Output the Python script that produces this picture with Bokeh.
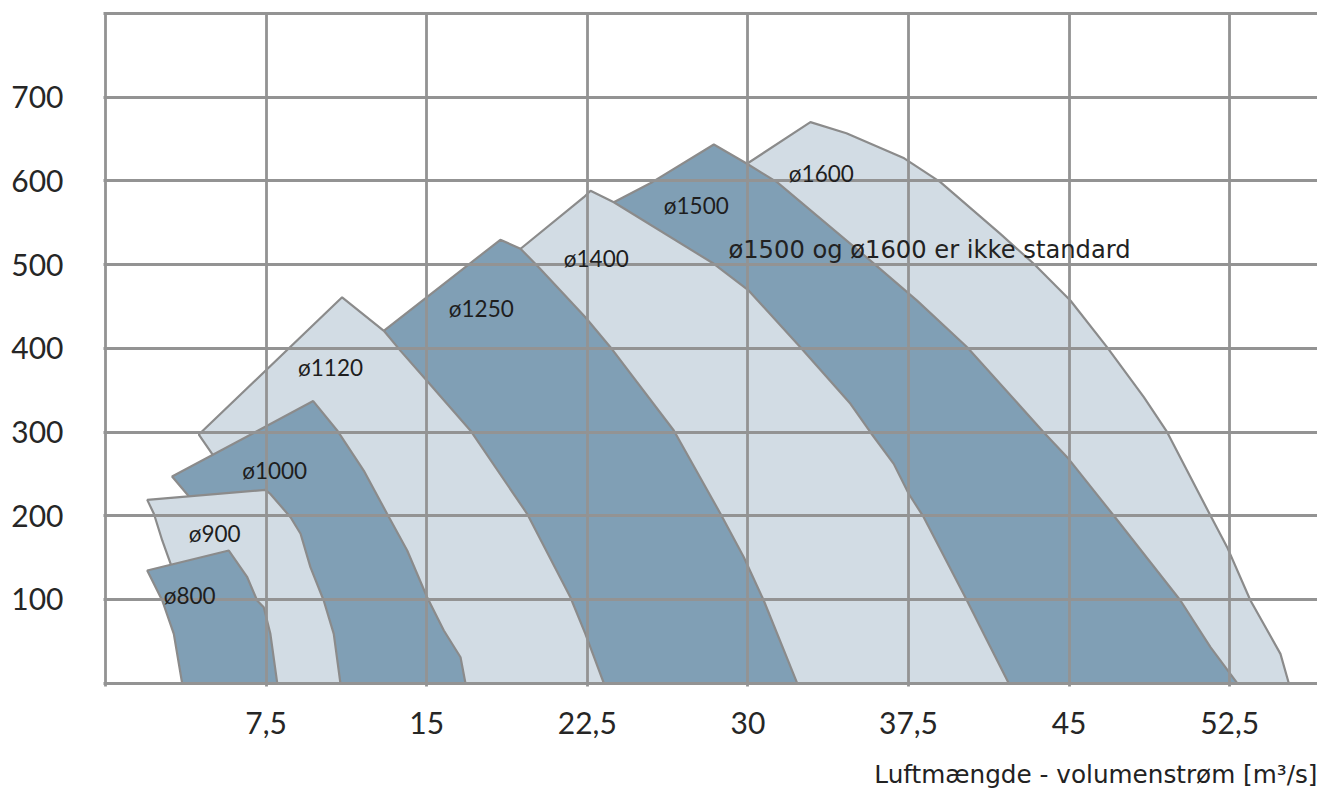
from bokeh.plotting import figure
from bokeh.models import Range1d, FixedTicker, Label, ColumnDataSource, Title
from bokeh.embed import file_html
from bokeh.resources import INLINE
from bokeh.core.properties import value

# ---- data (x: m3/s, y: pressure) ----
fan_names = ["ø800", "ø900", "ø1000", "ø1120", "ø1250", "ø1400", "ø1500", "ø1600"]

d800_x = [1.95, 5.76, 6.62, 7.08, 7.39, 7.70, 8.02, 3.58, 3.19, 2.65]
d800_y = [134.6, 158.5, 126.6, 98.8, 90.8, 59, 0, 0, 59, 98.8]

d900_x = [1.95, 7.47, 7.70, 8.64, 9.11, 9.57, 10.19, 10.66, 10.97, 7.5, 3.08, 2.65, 2.26]
d900_y = [219, 231, 226, 198.3, 178.5, 138.6, 98.8, 59, 0, 0, 140, 170.5, 202.4]

d1000_x = [3.11, 9.70, 10.82, 12.06, 13.15, 14.09, 15.02, 15.80, 16.58, 16.81, 10.4, 3.97]
d1000_y = [247, 337, 301.9, 254, 202.4, 158.5, 102.7, 63, 31, 0, 0, 221]

d1120_x = [4.36, 11.05, 13.0, 13.78, 15.02, 17.04, 19.69, 21.71, 22.41, 23.27, 16.3, 5.06]
d1120_y = [297, 461, 421, 397, 361, 301.9, 202.4, 102.7, 59, 0, 0, 271]

d1250_x = [12.8, 18.44, 19.38, 20.23, 22.41, 23.58, 26.54, 28.72, 29.81, 30.74, 32.3, 22.8]
d1250_y = [417, 529.7, 519, 497, 437.2, 401.4, 301.9, 202.4, 150.5, 98.8, 0, 0]

d1400_x = [19.1, 22.34, 22.65, 23.74, 28.41, 30.0, 32.45, 34.79, 35.72, 36.81, 37.51, 38.21, 40.23, 41.01, 42.18, 31.8]
d1400_y = [513, 580.6, 588.3, 574.6, 501, 470, 401.4, 333.8, 299.8, 262, 226.3, 198.3, 98.8, 59, 0, 0]

d1500_x = [23.4, 25.53, 28.41, 29.96, 31.36, 35.9, 37.9, 40.24, 43.81, 44.91, 47.08, 50.2, 51.6, 52.85, 41.7]
d1500_y = [570, 598.5, 643.5, 620.5, 598.5, 501, 457, 401.4, 299.8, 270, 200.3, 98.8, 43, 0, 0]

d1600_x = [29.6, 32.92, 34.6, 37.3, 38.99, 41.79, 43.35, 45.06, 46.77, 48.49, 49.58, 51.6, 52.38, 53.47, 54.87, 55.26, 52.3]
d1600_y = [614.5, 670.2, 657, 627, 598.5, 536.8, 501, 457.2, 401.4, 341.7, 299.8, 200.3, 162.5, 98.8, 35, 0, 0]

fan_fill = ["#809fb5", "#d2dce4", "#809fb5", "#d2dce4", "#809fb5", "#d2dce4", "#809fb5", "#d2dce4"]

label_x = [3.93, 5.10, 7.90, 10.51, 17.55, 22.92, 27.59, 33.43]
label_y = [104.8, 178.5, 254.1, 377.5, 447.3, 507.0, 570.7, 608.5]

x_ticks = [7.5, 15, 22.5, 30, 37.5, 45, 52.5]
x_tick_labels = ["7,5", "15", "22,5", "30", "37,5", "45", "52,5"]
x_grid = [0, 7.5, 15, 22.5, 30, 37.5, 45, 52.5]
y_ticks = [100, 200, 300, 400, 500, 600, 700]
y_grid = [0, 100, 200, 300, 400, 500, 600, 700, 800]

note_text = "ø1500 og ø1600 er ikke standard"
x_title = "Luftmængde - volumenstrøm [m³/s]"

# ---- figure ----
p = figure(width=1317, height=811,
           x_range=Range1d(-0.093, 56.6), y_range=Range1d(-3.94, 801.2),
           output_backend="svg", toolbar_location=None,
           min_border_left=103, min_border_right=0,
           min_border_top=12, min_border_bottom=125)
p.outline_line_color = None
p.background_fill_color = "white"
p.border_fill_color = "white"

# polygons drawn largest first so smaller fans lie on top
xs_all = [d800_x, d900_x, d1000_x, d1120_x, d1250_x, d1400_x, d1500_x, d1600_x]
ys_all = [d800_y, d900_y, d1000_y, d1120_y, d1250_y, d1400_y, d1500_y, d1600_y]
src = ColumnDataSource(dict(xs=xs_all[::-1], ys=ys_all[::-1], fill=fan_fill[::-1]))
p.patches(xs="xs", ys="ys", fill_color="fill", source=src,
          line_color="#8b8b8b", line_width=2.2)

# grid on top of the fills
p.xgrid.ticker = FixedTicker(ticks=x_grid)
p.ygrid.ticker = FixedTicker(ticks=y_grid)
p.grid.grid_line_color = "#939393"
p.grid.grid_line_width = 2.8
p.grid.level = "guide"

# axes
p.xaxis.ticker = FixedTicker(ticks=x_ticks)
p.xaxis.major_label_overrides = dict(zip(x_ticks, x_tick_labels))
p.yaxis.ticker = FixedTicker(ticks=y_ticks)
p.axis.axis_line_color = None
p.axis.major_tick_line_color = None
p.axis.minor_tick_line_color = None
p.axis.major_label_text_font = "Lato"
p.axis.major_label_text_font_size = "30px"
p.axis.major_label_text_color = "#262626"
p.xaxis.major_label_standoff = 19
p.yaxis.major_label_standoff = 34

# fan labels
p.text(x=label_x, y=label_y, text=fan_names, text_font=value("Lato"),
       text_font_size=value("22.5px"), text_align="center",
       text_baseline="alphabetic", text_color="#1e1e1e", level="annotation")

p.add_layout(Label(x=29.09, y=516.9, text=note_text, text_font="DejaVu Sans",
                   text_font_size="24.2px", text_baseline="alphabetic",
                   text_color="#222222"))

p.add_layout(Title(text=x_title, align="right", text_font="DejaVu Sans",
                   text_font_size="24.7px", text_font_style="normal",
                   text_color="#222222", standoff=42), "below")

open("out.html", "w").write(file_html(p, INLINE))
